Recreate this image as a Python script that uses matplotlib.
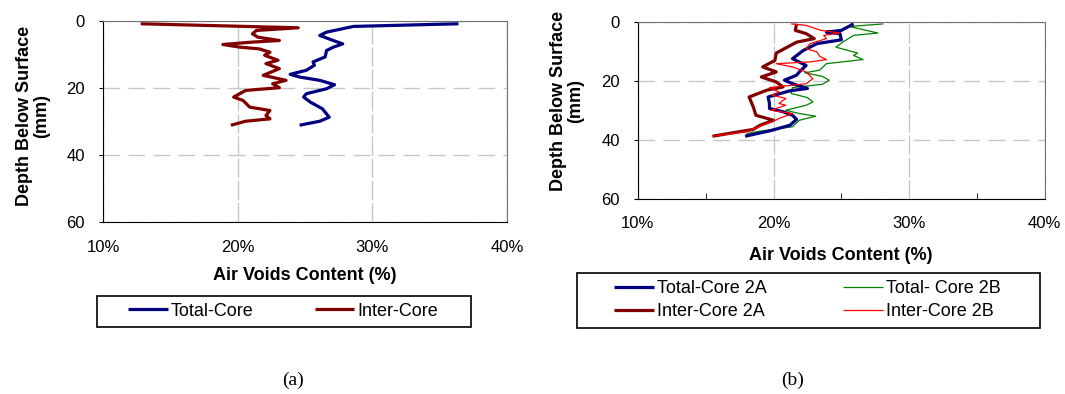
import matplotlib.pyplot as plt
from matplotlib.patches import Rectangle
import numpy as np

plt.rcParams['font.family'] = ['Liberation Sans', 'DejaVu Sans']

# (a) single core
a_total_x = [36.4, 28.6, 26.6, 26.1, 27.1, 27.8, 27.1, 26.6, 26.5, 25.6, 25.7, 25.1, 23.9, 24.6,
             26.1, 27.2, 26.6, 25.1, 24.9, 25.4, 26.3, 26.8, 26.1, 24.6]
a_total_y = [0.8, 1.6, 3.3, 4.3, 5.8, 6.8, 7.8, 8.8, 10.7, 12.2, 13.2, 14.7, 15.9, 16.7,
             17.7, 19.0, 20.2, 21.7, 22.7, 24.2, 26.2, 28.7, 29.9, 31.1]
a_inter_x = [12.8, 24.5, 21.4, 21.1, 21.5, 23.1, 21.0, 18.9, 20.2, 21.6, 22.4, 22.0, 23.0, 22.1,
             23.1, 21.9, 23.6, 22.6, 23.1, 20.6, 19.7, 20.4, 20.9, 22.4, 22.1, 22.4, 20.6, 19.5]
a_inter_y = [0.8, 2.0, 2.8, 3.8, 4.8, 5.8, 6.3, 7.0, 7.8, 8.3, 9.3, 10.2, 11.7, 12.7,
             14.2, 16.2, 17.7, 18.7, 19.9, 20.7, 22.7, 23.7, 25.7, 26.7, 28.2, 29.2, 29.9, 31.1]

# (b) cores 2A / 2B
b_tot2a_x = [25.9, 25.0, 23.9, 24.9, 25.0, 23.2, 22.2, 21.4, 22.4, 21.9, 21.7, 20.8, 21.4, 22.5,
             21.2, 19.6, 19.7, 19.7, 20.7, 21.4, 21.7, 21.2, 19.7, 17.9]
b_tot2a_y = [0.6, 2.8, 3.4, 3.9, 6.0, 7.3, 9.6, 12.4, 14.7, 16.9, 18.0, 19.7, 20.9, 22.5,
             23.3, 25.4, 27.6, 29.3, 30.4, 31.6, 33.0, 35.0, 36.9, 38.7]
b_tot2b_x = [28.1, 25.6, 27.7, 25.9, 25.1, 24.6, 26.2, 25.9, 26.6, 23.9, 23.4, 22.3, 23.6, 24.1,
             23.6, 21.4, 21.3, 22.5, 22.9, 22.4, 20.9, 21.9, 23.1, 21.9, 21.4, 19.0, 18.0]
b_tot2b_y = [0.6, 1.5, 3.7, 4.5, 6.8, 8.5, 10.5, 11.3, 12.7, 14.1, 16.3, 17.2, 18.4, 19.7,
             21.1, 22.2, 24.2, 25.6, 27.1, 28.2, 29.9, 31.0, 31.9, 33.3, 35.5, 37.0, 37.8]
b_int2a_x = [21.7, 21.6, 22.4, 23.0, 21.7, 20.2, 20.1, 19.2, 20.2, 19.1, 20.2, 20.7, 19.5, 18.2,
             18.5, 18.7, 20.0, 19.0, 18.5, 15.5]
b_int2a_y = [0.6, 2.8, 3.9, 5.6, 6.8, 10.5, 13.0, 15.2, 16.9, 18.6, 20.3, 22.0, 23.1, 25.4,
             28.7, 31.6, 33.3, 35.0, 36.4, 38.7]
b_int2b_x = [21.3, 22.4, 23.5, 24.9, 23.7, 23.9, 22.7, 22.4, 23.2, 23.4, 23.9, 22.7, 20.2, 21.4,
             22.4, 22.9, 22.4, 19.7, 20.4, 19.9, 20.9, 20.4, 20.9, 19.8, 21.4, 20.4, 19.9, 19.2,
             18.0, 15.5]
b_int2b_y = [0.6, 1.1, 2.8, 3.7, 4.5, 5.6, 7.3, 9.0, 10.1, 11.6, 12.7, 13.5, 14.1, 15.2,
             16.9, 19.2, 20.9, 22.2, 23.7, 24.8, 25.9, 27.6, 28.2, 29.9, 31.0, 32.7, 33.8, 35.0,
             37.2, 38.7]

xticks = [10, 20, 30, 40]
xticklabels = ['10%', '20%', '30%', '40%']
yticks = [0, 20, 40, 60]

W, H = 1065, 394
fig = plt.figure(figsize=(10.65, 3.94), dpi=100)
ax1 = fig.add_axes([0.0967, 0.4365, 0.3793, 0.510])
ax2 = fig.add_axes([0.599, 0.4949, 0.382, 0.449])


def style(ax):
    ax.set_xlim(10, 40)
    ax.set_ylim(60, 0)
    ax.set_xticks(xticks)
    ax.set_xticklabels(xticklabels)
    ax.set_yticks(yticks)
    ax.tick_params(labelsize=12, colors='black')
    ax.tick_params(axis='y', direction='out', length=3, pad=10)
    ax.tick_params(axis='x', length=0, pad=13)
    ax.grid(True, axis='y', color='#c8c8c8', linestyle=(0, (12, 6)), linewidth=1)
    ax.grid(True, axis='x', color='#c8c8c8', linestyle=(0, (14, 2)), linewidth=1)
    ax.set_axisbelow(True)
    for s in ['left', 'bottom']:
        ax.spines[s].set_color('black')
    for s in ['top', 'right']:
        ax.spines[s].set_color('#707070')


style(ax1)
style(ax2)
ax2.tick_params(axis='x', pad=12)
ax2.set_xticks([15, 25, 35], minor=True)
ax2.tick_params(axis='x', which='minor', direction='in', length=4)

kw = dict(solid_joinstyle='round', solid_capstyle='butt')
l1, = ax1.plot(a_total_x, a_total_y, color='#000080', lw=2.3, label='Total-Core', **kw)
l2, = ax1.plot(a_inter_x, a_inter_y, color='#800000', lw=2.3, label='Inter-Core', **kw)

m1, = ax2.plot(b_tot2a_x, b_tot2a_y, color='#000080', lw=2.3, label='Total-Core 2A', zorder=3, **kw)
m2, = ax2.plot(b_tot2b_x, b_tot2b_y, color='#008000', lw=0.9, label='Total- Core 2B', zorder=2, **kw)
m3, = ax2.plot(b_int2a_x, b_int2a_y, color='#800000', lw=2.3, label='Inter-Core 2A', zorder=3, **kw)
m4, = ax2.plot(b_int2b_x, b_int2b_y, color='#ff0000', lw=0.9, label='Inter-Core 2B', zorder=4, **kw)

fig.text(33 / W, 1 - 116 / H, 'Depth Below Surface\n(mm)', rotation=90, ha='center',
         va='center', fontsize=13, fontweight='bold', linespacing=1.0)
fig.text(567 / W, 1 - 101 / H, 'Depth Below Surface\n(mm)', rotation=90, ha='center',
         va='center', fontsize=13, fontweight='bold', linespacing=1.0)
fig.text(0.2858, 1 - 275 / H, 'Air Voids Content (%)', ha='center', va='center',
         fontsize=13, fontweight='bold')
fig.text(0.7899, 1 - 255 / H, 'Air Voids Content (%)', ha='center', va='center',
         fontsize=13, fontweight='bold')

# legend frames drawn as rectangles (Excel-style padding)
fig.patches.append(Rectangle((97 / W, 1 - 327 / H), 374 / W, 31 / H, transform=fig.transFigure,
                             fill=False, edgecolor='black', linewidth=1.2))
fig.patches.append(Rectangle((577 / W, 1 - 328 / H), 463 / W, 55 / H, transform=fig.transFigure,
                             fill=False, edgecolor='black', linewidth=1.2))

fig.legend(handles=[l1, l2], ncol=2, loc='center left', bbox_to_anchor=(119 / W, 1 - 311 / H),
           frameon=False, fontsize=13, handlelength=2.2, handletextpad=0.15,
           columnspacing=3.4, borderpad=0.0)
fig.legend(handles=[m1, m3, m2, m4], ncol=2, loc='center left',
           bbox_to_anchor=(605 / W, 1 - 300 / H), frameon=False, fontsize=13,
           handlelength=2.2, handletextpad=0.2, columnspacing=4.2, borderpad=0.0,
           labelspacing=0.35)

fig.text(293 / W, 1 - 380 / H, '(a)', ha='center', va='center', fontsize=14,
         family='Liberation Serif')
fig.text(793 / W, 1 - 380 / H, '(b)', ha='center', va='center', fontsize=14,
         family='Liberation Serif')

plt.savefig('out.png', dpi=100)
